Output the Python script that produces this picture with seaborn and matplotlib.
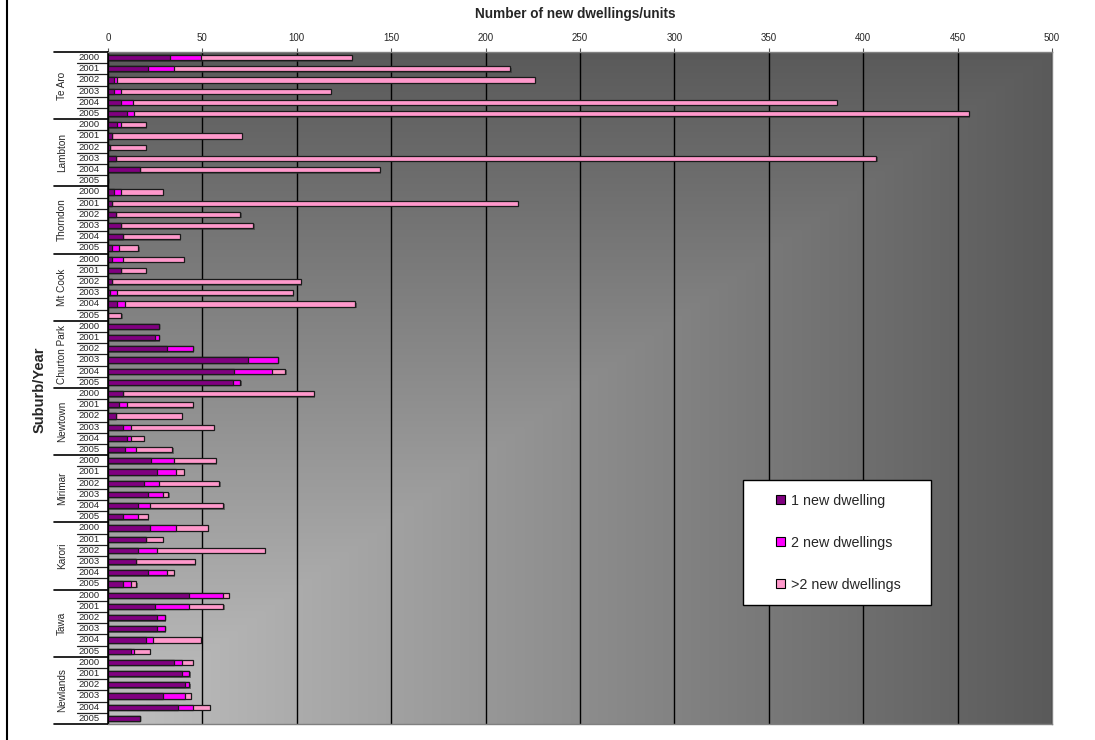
import numpy as np
import pandas as pd
import matplotlib
matplotlib.use("Agg")
import matplotlib.pyplot as plt
import seaborn as sns
from matplotlib import transforms
from matplotlib import patheffects as pe
from matplotlib.patches import Patch, Rectangle
from matplotlib.lines import Line2D

# ---------------- data ----------------
suburbs = ["Te Aro", "Lambton", "Thorndon", "Mt Cook", "Churton Park",
           "Newtown", "Mirimar", "Karori", "Tawa", "Newlands"]
years = ["2000", "2001", "2002", "2003", "2004", "2005"]

# one row of 6 values (2000..2005) per suburb, same order as `suburbs`
one_dwelling = [33, 21, 3, 3, 7, 10,
                5, 2, 1, 4, 17, 0,
                3, 2, 4, 7, 8, 2,
                2, 7, 2, 1, 5, 0,
                27, 25, 31, 74, 67, 66,
                8, 6, 4, 8, 10, 9,
                23, 26, 19, 21, 16, 8,
                22, 20, 16, 15, 21, 8,
                43, 25, 26, 26, 20, 12,
                35, 39, 41, 29, 37, 17]
two_dwellings = [16, 14, 2, 4, 6, 4,
                 2, 0, 0, 0, 0, 0,
                 4, 0, 0, 0, 0, 4,
                 6, 0, 0, 4, 4, 0,
                 0, 2, 14, 16, 20, 4,
                 0, 4, 0, 4, 2, 6,
                 12, 10, 8, 8, 6, 8,
                 14, 0, 10, 0, 10, 4,
                 18, 18, 4, 4, 4, 2,
                 4, 4, 2, 12, 8, 0]
more_dwellings = [80, 178, 221, 111, 373, 442,
                  13, 69, 19, 403, 127, 0,
                  22, 215, 66, 70, 30, 10,
                  32, 13, 100, 93, 122, 7,
                  0, 0, 0, 0, 7, 0,
                  101, 35, 35, 44, 7, 19,
                  22, 4, 32, 3, 39, 5,
                  17, 9, 57, 31, 4, 3,
                  3, 18, 0, 0, 25, 8,
                  6, 0, 0, 3, 9, 0]
x_ticks = [0, 50, 100, 150, 200, 250, 300, 350, 400, 450, 500]
series_labels = ["1 new dwelling", "2 new dwellings", ">2 new dwellings"]

# ---------------- style ----------------
sns.set_theme(style="white")
plt.rcParams["font.family"] = ["Liberation Sans", "DejaVu Sans"]

DARK, MAG, PINK = "#800080", "#FF00FF", "#FF99CC"

rows = [f"{s} {y}" for s in suburbs for y in years]
df = pd.DataFrame({
    "row": rows,
    "one": one_dwelling,
    "two": two_dwellings,
    "more": more_dwellings,
})
df["lvl1"] = df["one"]
df["lvl2"] = df["one"] + df["two"]
df["lvl3"] = df["one"] + df["two"] + df["more"]

W, H = 1095, 740
fig = plt.figure(figsize=(W / 100, H / 100), dpi=100)
fig.patch.set_facecolor("white")
L, R, T, B = 108, 1052, 52, 724
ax = fig.add_axes([L / W, 1 - B / H, (R - L) / W, (B - T) / H])

# gradient background ("from corner": light bottom-left, dark top/right)
nx, ny = 500, 400
gx = np.linspace(0, 1, nx)
gy = np.linspace(1, 0, ny)
GX, GY = np.meshgrid(gx, gy)
t = np.maximum(GX, GY)
v = np.clip((192 - 102 * t) / 255.0, 0, 1)
img = np.dstack([v, v, v])
ax.imshow(img, extent=(0, 1, 0, 1), transform=ax.transAxes, aspect="auto",
          zorder=0, interpolation="bilinear")

common = dict(orient="h", order=rows, width=0.45, saturation=1,
              edgecolor="#1a1a1a", linewidth=0.9, errorbar=None, ax=ax)
sns.barplot(data=df, x="lvl3", y="row", color=PINK, **common)
shadow = [pe.SimplePatchShadow(offset=(1.0, -1.0), shadow_rgbFace="#333333",
                               alpha=0.55), pe.Normal()]
for p in ax.patches:
    p.set_path_effects(shadow)
sns.barplot(data=df, x="lvl2", y="row", color=MAG, **common)
sns.barplot(data=df, x="lvl1", y="row", color=DARK, **common)

ax.set_xlim(0, 500)
ax.set_ylim(len(rows) - 0.5, -0.5)
ax.set_xlabel("")
ax.set_ylabel("")

# axes / grid
ax.set_axisbelow(True)
ax.grid(axis="x", color="black", linewidth=1.0)
ax.grid(axis="y", visible=False)
ax.xaxis.tick_top()
ax.set_xticks(x_ticks)
ax.set_xticklabels([str(v) for v in x_ticks])
ax.tick_params(axis="x", top=True, bottom=False, length=3, width=0.8,
               color="#555555", pad=3.5, labelsize=7)
ax.set_yticks([])
for side in ["top", "right", "bottom"]:
    ax.spines[side].set_color("#808080")
    ax.spines[side].set_linewidth(1.0)
ax.spines["left"].set_color("black")
ax.spines["left"].set_linewidth(1.2)

# multi-level category labels
trans = transforms.blended_transform_factory(ax.transAxes, ax.transData)
px = 1.0 / (R - L)
for i, r in enumerate(rows):
    ax.text(-8 * px, i, years[i % 6], ha="right", va="center", fontsize=6.8,
            transform=trans, clip_on=False)
for i in range(len(rows) + 1):
    yb = i - 0.5
    if i % 6 == 0:
        ax.plot([-54 * px, 0], [yb, yb], color="black", lw=1.2,
                transform=trans, clip_on=False)
    else:
        ax.plot([-31 * px, 0], [yb, yb], color="#222222", lw=0.9,
                transform=trans, clip_on=False)
for g, s in enumerate(suburbs):
    ax.text(-46 * px, g * 6 + 2.5, s, rotation=90, ha="center", va="center",
            fontsize=7.2, transform=trans, clip_on=False)

# titles
fig.text(575 / W, 1 - 14 / H, "Number of new dwellings/units", ha="center",
         va="center", fontsize=9.8, fontweight="bold")
fig.text(40 / W, 1 - 390 / H, "Suburb/Year", ha="center", va="center",
         rotation=90, fontsize=10.5, fontweight="bold")

# left border of the chart area
fig.add_artist(Line2D([7 / W, 7 / W], [0, 1], color="black", lw=1.5,
                      transform=fig.transFigure))

# legend box
fig.add_artist(Rectangle((743 / W, 1 - 605 / H), 188 / W, 125 / H,
                         facecolor="white", edgecolor="black", lw=1.0,
                         transform=fig.transFigure, zorder=3))
handles = [Patch(facecolor=c, edgecolor="black", linewidth=0.8)
           for c in (DARK, MAG, PINK)]
leg = fig.legend(handles, series_labels, loc="upper left",
                 bbox_to_anchor=(776 / W, 1 - 494 / H), frameon=False,
                 fontsize=10.3, handlelength=0.6, handleheight=0.6,
                 handletextpad=0.45, labelspacing=1.95, borderpad=0,
                 borderaxespad=0)
leg.set_zorder(4)

fig.savefig("out.png", dpi=100)
